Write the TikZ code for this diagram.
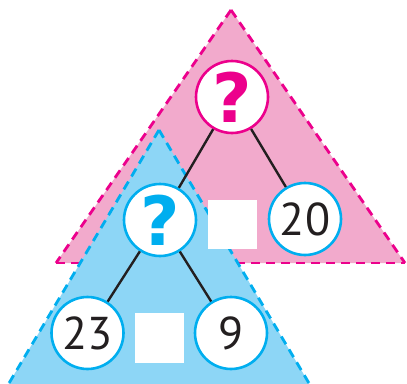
\documentclass[tikz,border=0pt]{standalone}
\usepackage{fontspec}
\setmainfont{PT Sans}
\newfontfamily\qfont{DejaVu Sans}
\definecolor{pinkfill}{RGB}{242,170,204}
\definecolor{bluefill}{RGB}{141,214,246}
\definecolor{magline}{RGB}{236,0,140}
\definecolor{cyanline}{RGB}{0,174,239}
\definecolor{ink}{RGB}{35,31,32}
\tikzset{
  dashedge/.style={line width=2.8pt, dash pattern=on 9pt off 6pt},
  bubble/.style={circle, draw=cyanline, fill=white, line width=2.6pt, minimum size=72pt, inner sep=0pt},
  numtext/.style={text=ink, font=\fontsize{46}{46}\selectfont, inner sep=0pt},
  qtext/.style={font=\qfont\bfseries\fontsize{68}{68}\selectfont, inner sep=0pt},
  link/.style={draw=ink, line width=2.4pt},
  blank/.style={fill=white}
}
\begin{document}
\begin{tikzpicture}[x=1pt,y=-1pt]
\useasboundingbox (0,0) rectangle (407,383);
% pink triangle
\fill[pinkfill] (231,10) -- (56,263) -- (405,263) -- cycle;
\draw[magline, dashedge] (231,10) -- (56,263);
\draw[magline, dashedge] (231,10) -- (405,263);
\draw[magline, dashedge] (56,263) -- (405,263);
% blue triangle
\begin{scope}
\clip (0,0) rectangle (407,383);
\coordinate (bapex) at (159,130);
\coordinate (bleft) at (2,395);
\coordinate (bright) at (316,395);
\fill[bluefill] (bapex) -- (bleft) -- (bright) -- cycle;
\draw[cyanline, dashedge] (bapex) -- (bleft);
\draw[cyanline, dashedge] (bapex) -- (bright);
\end{scope}
% white squares
\fill[blank] (208,200) rectangle (257,249);
\fill[blank] (135,313) rectangle (184,363);
% circles
\node[bubble, draw=magline] (top) at (232,97) {};
\node[bubble] (lq) at (160,220) {};
\node[bubble] (twenty) at (305,219) {};
\node[bubble] (tt) at (87.5,333) {};
\node[bubble] (nine) at (231,333) {};
% links
\draw[link] (top) -- (lq);
\draw[link] (top) -- (twenty);
\draw[link] (lq) -- (tt);
\draw[link] (lq) -- (nine);
% texts
\node[qtext, text=magline] at (top) {?};
\node[qtext, text=cyanline] at (lq) {?};
\node[numtext] at (twenty) {20};
\node[numtext] at (tt) {23};
\node[numtext] at (nine) {9};
\end{tikzpicture}
\end{document}
